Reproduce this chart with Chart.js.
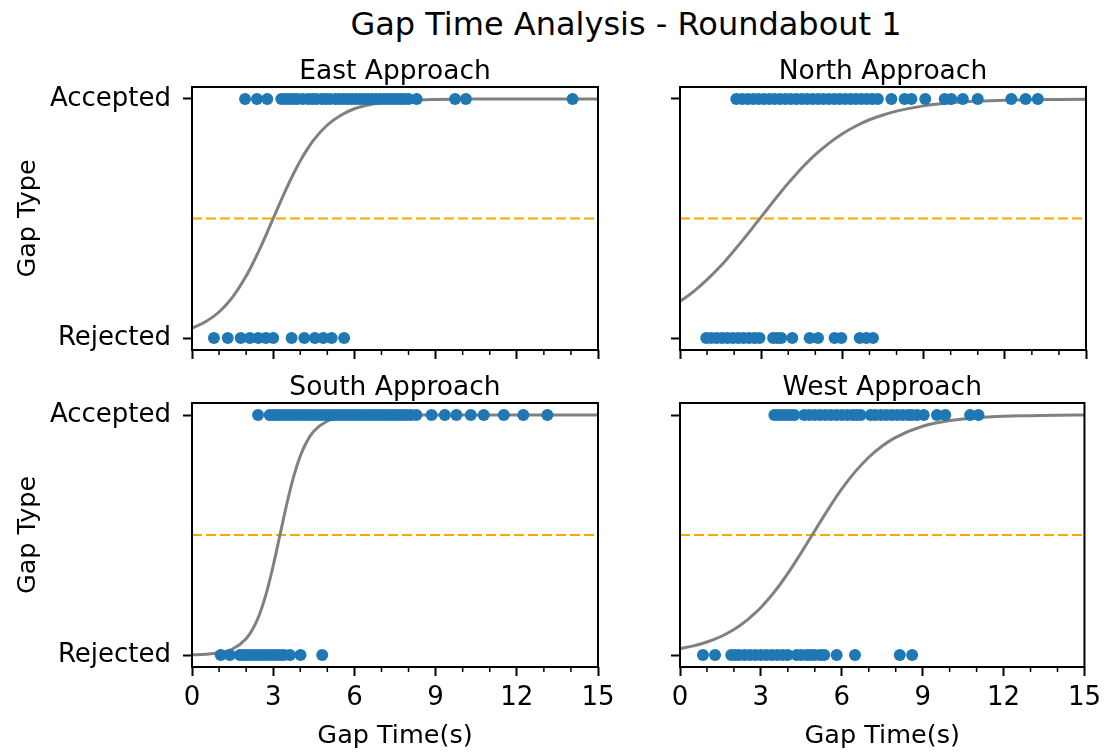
<!DOCTYPE html>
<html>
<head>
<meta charset="utf-8">
<script src="https://cdn.jsdelivr.net/npm/chart.js@4.4.1/dist/chart.umd.min.js"></script>
<style>
body { margin: 0; background: #fff; }
#wrap { position: relative; width: 1108px; height: 756px; overflow: hidden; }
#wrap canvas { position: absolute; left: 0; top: 0; }
#suptitle {
    position: absolute; left: 626px; top: 5px; transform: translateX(-50%);
    font-family: "DejaVu Sans"; font-size: 32px; line-height: 38px; white-space: nowrap; color: #000;
}
</style>
</head>
<body>
<div id="wrap">
    <div id="suptitle">Gap Time Analysis - Roundabout 1</div>
    <canvas id="east" width="1108" height="756"></canvas>
    <canvas id="north" width="1108" height="756"></canvas>
    <canvas id="south" width="1108" height="756"></canvas>
    <canvas id="west" width="1108" height="756"></canvas>
</div>
<script>
// values
const xTickValues = [0, 3, 6, 9, 12, 15];
const yTickValues = [0, 1];
const yTickLabels = ['Rejected', 'Accepted'];
const threshold = 0.5;

const eastAccepted = [1.96, 2.4, 2.78, 3.3, 3.45, 3.6, 3.75, 3.9, 4.1, 4.3, 4.45, 4.6, 4.8, 4.95, 5.1, 5.3, 5.45, 5.6, 5.75, 5.9,
    6.05, 6.2, 6.35, 6.5, 6.65, 6.8, 6.95, 7.1, 7.25, 7.4, 7.55, 7.7, 7.85, 8.0, 8.3, 9.72, 10.12, 14.06];
const eastRejected = [0.81, 1.32, 1.8, 2.14, 2.45, 2.73, 3.0, 3.68, 4.15, 4.54, 4.85, 5.16, 5.62];

const northAccepted = [2.08, 2.3, 2.5, 2.7, 2.9, 3.1, 3.3, 3.5, 3.7, 3.9, 4.1, 4.3, 4.5, 4.7, 4.9, 5.1, 5.3, 5.5, 5.7, 5.9,
    6.1, 6.3, 6.5, 6.7, 6.9, 7.1, 7.31, 7.81, 8.3, 8.55, 9.06, 9.78, 10.02, 10.45, 11.0, 12.24, 12.77, 13.22];
const northRejected = [0.97, 1.15, 1.35, 1.55, 1.75, 1.95, 2.15, 2.35, 2.55, 2.75, 2.94, 3.44, 3.6, 3.74, 4.15, 4.79, 5.1,
    5.71, 5.96, 6.64, 6.88, 7.13];

const southAccepted = [2.44, 2.87, 3.0, 3.15, 3.3, 3.45, 3.6, 3.75, 3.9, 4.05, 4.2, 4.35, 4.5, 4.65, 4.8, 4.95, 5.1, 5.25,
    5.4, 5.55, 5.7, 5.85, 6.0, 6.15, 6.3, 6.45, 6.6, 6.75, 6.9, 7.05, 7.2, 7.35, 7.5, 7.65, 7.8, 7.95, 8.1, 8.29, 8.85,
    9.34, 9.77, 10.3, 10.78, 11.52, 12.24, 13.13];
const southRejected = [1.06, 1.4, 1.77, 1.9, 2.05, 2.2, 2.35, 2.5, 2.65, 2.8, 2.95, 3.1, 3.25, 3.4, 3.62, 4.01, 4.81];

const westAccepted = [3.5, 3.65, 3.8, 3.95, 4.1, 4.24, 4.61, 4.8, 5.0, 5.2, 5.4, 5.6, 5.8, 6.0, 6.2, 6.4, 6.55, 6.7, 7.07,
    7.25, 7.45, 7.65, 7.85, 8.05, 8.25, 8.45, 8.6, 8.79, 9.04, 9.53, 9.84, 10.76, 11.07];
const westRejected = [0.85, 1.3, 1.9, 2.05, 2.2, 2.4, 2.6, 2.8, 3.0, 3.2, 3.4, 3.6, 3.8, 3.99, 4.33, 4.5, 4.7, 4.85, 5.0,
    5.2, 5.35, 5.81, 6.49, 8.15, 8.61];

// fitted curves, sampled by eye
const curveTimes = [0, 0.5, 1, 1.5, 2, 2.25, 2.5, 2.75, 3, 3.25, 3.5, 3.75, 4, 4.25, 4.5, 5, 5.5, 6, 6.5, 7, 7.5, 8,
    9, 10, 11, 12, 13, 14, 15];
const eastCurve = [0.041, 0.068, 0.109, 0.171, 0.259, 0.313, 0.372, 0.435, 0.5, 0.565, 0.628, 0.687, 0.741, 0.788, 0.829,
    0.891, 0.932, 0.959, 0.975, 0.985, 0.991, 0.995, 0.998, 0.999, 1.0, 1.0, 1.0, 1.0, 1.0];
const northCurve = [0.153, 0.194, 0.244, 0.301, 0.366, 0.4, 0.435, 0.471, 0.507, 0.543, 0.579, 0.614, 0.648, 0.68, 0.711,
    0.767, 0.814, 0.854, 0.887, 0.913, 0.933, 0.949, 0.971, 0.984, 0.991, 0.995, 0.997, 0.998, 0.999];
const southCurve = [0.001, 0.003, 0.009, 0.025, 0.068, 0.109, 0.171, 0.259, 0.372, 0.5, 0.628, 0.741, 0.829, 0.891, 0.932,
    0.975, 0.991, 0.997, 0.999, 1.0, 1.0, 1.0, 1.0, 1.0, 1.0, 1.0, 1.0, 1.0, 1.0];
const westCurve = [0.027, 0.038, 0.054, 0.076, 0.106, 0.125, 0.146, 0.171, 0.198, 0.229, 0.263, 0.3, 0.34, 0.383, 0.427,
    0.518, 0.608, 0.692, 0.764, 0.824, 0.871, 0.907, 0.953, 0.977, 0.989, 0.995, 0.997, 0.999, 1.0];

const minorStep = 1;

Chart.defaults.font.family = 'DejaVu Sans';
Chart.defaults.color = '#000';

// small ticks between the labelled ones, plus the box round the plot
const frameAndMinor = {
    id: 'frameAndMinor',
    afterDraw(chart) {
        const ctx = chart.ctx;
        const a = chart.chartArea;
        const x = chart.scales.x;
        ctx.save();
        ctx.strokeStyle = '#000';
        ctx.lineWidth = 1.5;
        for (let v = x.min; v <= x.max; v += minorStep) {
            if (xTickValues.includes(v)) continue;
            const px = x.getPixelForValue(v);
            ctx.beginPath();
            ctx.moveTo(px, a.bottom);
            ctx.lineTo(px, a.bottom + 5);
            ctx.stroke();
        }
        ctx.lineWidth = 2;
        ctx.strokeRect(a.left, a.top, a.right - a.left, a.bottom - a.top);
        ctx.restore();
    }
};

function makeChart(id, title, accepted, rejected, curve, box) {
    const points = accepted.map(t => ({x: t, y: 1})).concat(rejected.map(t => ({x: t, y: 0})));
    const yW = box.showY ? box.left : 80;
    const xH = box.showX ? 89 : 12;
    const titleLine = 26.5 * 1.15;

    new Chart(document.getElementById(id), {
        type: 'scatter',
        data: {
            datasets: [
                {
                    data: points,
                    backgroundColor: '#1f77b4',
                    borderWidth: 0,
                    pointRadius: 6,
                    order: 0
                },
                {
                    data: curveTimes.map((t, i) => ({x: t, y: curve[i]})),
                    showLine: true,
                    borderColor: '#808080',
                    borderWidth: 3,
                    pointRadius: 0,
                    cubicInterpolationMode: 'monotone',
                    order: 1
                },
                {
                    data: [{x: xTickValues[0], y: threshold}, {x: xTickValues[xTickValues.length - 1], y: threshold}],
                    showLine: true,
                    borderColor: 'orange',
                    borderWidth: 2,
                    borderDash: [10, 4],
                    pointRadius: 0,
                    order: 2
                }
            ]
        },
        options: {
            responsive: false,
            animation: false,
            events: [],
            layout: {
                padding: {
                    left: box.left - yW,
                    right: 1108 - box.right,
                    top: box.top - titleLine,
                    bottom: 756 - box.bottom - xH
                }
            },
            plugins: {
                legend: { display: false },
                tooltip: { enabled: false },
                title: {
                    display: true,
                    text: title,
                    fullSize: false,
                    font: { size: 26.5, weight: 'normal', lineHeight: 1.15 },
                    padding: { top: 0, bottom: 0 }
                }
            },
            scales: {
                x: {
                    type: 'linear',
                    min: xTickValues[0],
                    max: xTickValues[xTickValues.length - 1],
                    afterBuildTicks: s => { s.ticks = xTickValues.map(v => ({value: v})); },
                    afterFit: s => { s.height = xH; },
                    ticks: { display: box.showX, font: { size: 26 }, padding: 7, maxRotation: 0, autoSkip: false },
                    grid: { drawOnChartArea: false, tickLength: 9, tickWidth: 2, tickColor: '#000' },
                    border: { display: false },
                    title: {
                        display: box.showX,
                        text: 'Gap Time(s)',
                        font: { size: 25.5 },
                        padding: { top: 0, bottom: 4 }
                    }
                },
                y: {
                    type: 'linear',
                    min: -0.05,
                    max: 1.05,
                    afterBuildTicks: s => { s.ticks = yTickValues.map(v => ({value: v})); },
                    afterFit: s => { s.width = yW; },
                    ticks: {
                        display: box.showY,
                        font: { size: 26 },
                        padding: 12,
                        callback: v => yTickLabels[yTickValues.indexOf(v)]
                    },
                    grid: { drawOnChartArea: false, tickLength: 9, tickWidth: 2, tickColor: '#000' },
                    border: { display: false },
                    title: {
                        display: box.showY,
                        text: 'Gap Type',
                        font: { size: 25.5 },
                        padding: { top: 13, bottom: 0 }
                    }
                }
            }
        },
        plugins: [frameAndMinor]
    });
}

makeChart('east', 'East Approach', eastAccepted, eastRejected, eastCurve,
    { left: 192, right: 598, top: 87, bottom: 350, showX: false, showY: true });
makeChart('north', 'North Approach', northAccepted, northRejected, northCurve,
    { left: 680, right: 1086, top: 87, bottom: 350, showX: false, showY: false });
makeChart('south', 'South Approach', southAccepted, southRejected, southCurve,
    { left: 192, right: 598, top: 403, bottom: 667, showX: true, showY: true });
makeChart('west', 'West Approach', westAccepted, westRejected, westCurve,
    { left: 680, right: 1086, top: 403, bottom: 667, showX: true, showY: false });
</script>
</body>
</html>
